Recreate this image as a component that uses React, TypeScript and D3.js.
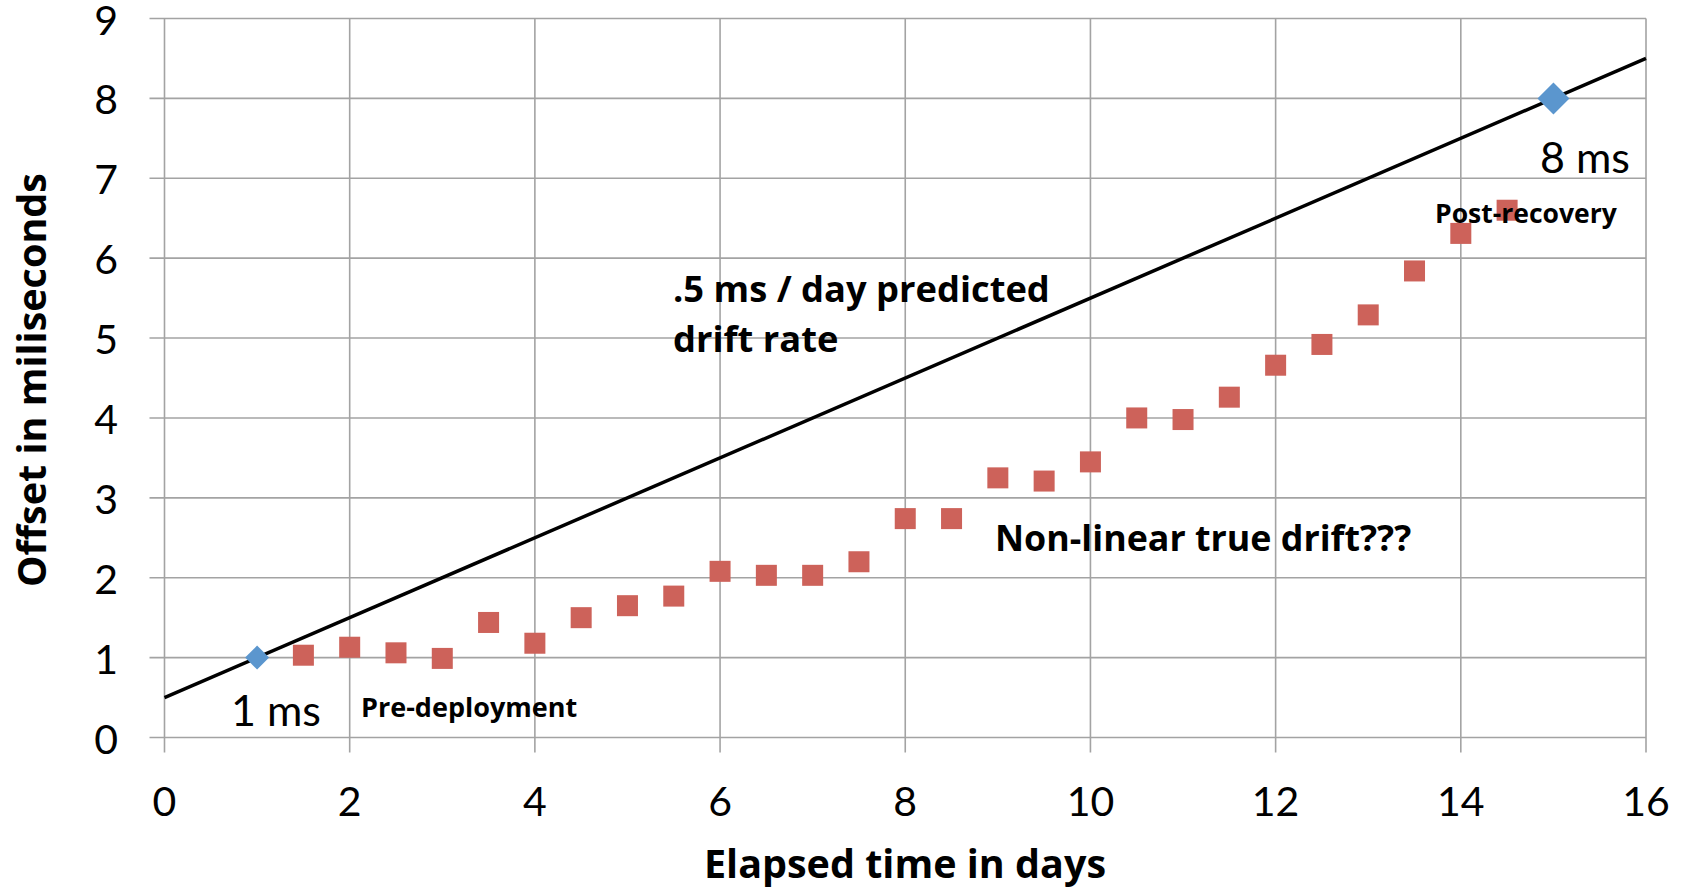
import React from "react";
import * as d3 from "d3";

const xTicks = [0, 2, 4, 6, 8, 10, 12, 14, 16];
const yTicks = [0, 1, 2, 3, 4, 5, 6, 7, 8, 9];

const predictedLine = [
  { day: 0, offset: 0.5 },
  { day: 16, offset: 8.5 },
];

const endpointDays = [1, 15];
const endpointOffsets = [1, 8];

const trueDays = [1.5, 2, 2.5, 3, 3.5, 4, 4.5, 5, 5.5, 6, 6.5, 7, 7.5, 8, 8.5, 9, 9.5, 10, 10.5, 11, 11.5, 12, 12.5, 13, 13.5, 14, 14.5];
const trueOffsets = [1.03, 1.13, 1.06, 0.99, 1.44, 1.18, 1.5, 1.65, 1.77, 2.08, 2.03, 2.03, 2.2, 2.74, 2.74, 3.25, 3.21, 3.45, 4.0, 3.98, 4.26, 4.66, 4.92, 5.29, 5.84, 6.31, 6.6];

const W = 1686;
const H = 893;
const FONT = "Lato, 'Open Sans', sans-serif";
const BOLD = "'Open Sans', Lato, sans-serif";

export default function App() {
  const x = d3.scaleLinear().domain([0, 16]).range([164.5, 1646]);
  const y = d3.scaleLinear().domain([0, 9]).range([737.5, 18.5]);
  const line = d3
    .line<{ day: number; offset: number }>()
    .x((d) => x(d.day))
    .y((d) => y(d.offset));
  const grid = "#A3A3A3";
  const sq = 21;
  const dm = 16;

  return (
    <svg
      width={W}
      height={H}
      style={{ position: "absolute", left: 0, top: 0, background: "#fff" }}
      fontFamily={FONT}
    >
      {yTicks.map((t) => (
        <line key={"h" + t} x1={x(0) - 15} x2={x(16)} y1={y(t)} y2={y(t)} stroke={grid} strokeWidth={1.6} />
      ))}
      {xTicks.map((t) => (
        <line key={"v" + t} x1={x(t)} x2={x(t)} y1={y(9)} y2={y(0) + 15} stroke={grid} strokeWidth={1.6} />
      ))}
      {yTicks.map((t) => (
        <text key={"yl" + t} x={118} y={y(t) + 16} textAnchor="end" fontSize={41} fill="#000">
          {t}
        </text>
      ))}
      {xTicks.map((t) => (
        <text key={"xl" + t} x={x(t)} y={816} textAnchor="middle" fontSize={41} fill="#000">
          {t}
        </text>
      ))}
      <text x={905} y={878} textAnchor="middle" fontSize={39.5} fontWeight="bold" fontFamily={BOLD} fill="#000">
        Elapsed time in days
      </text>
      <text
        transform={`translate(46, 380) rotate(-90)`}
        textAnchor="middle"
        fontSize={39.5}
        fontWeight="bold"
        fontFamily={BOLD}
        fill="#000"
      >
        Offset in miliseconds
      </text>

      <path d={line(predictedLine) || ""} stroke="#000" strokeWidth={3.5} fill="none" />

      {trueDays.map((d, i) => (
        <rect
          key={"s" + i}
          x={x(d) - sq / 2}
          y={y(trueOffsets[i]) - sq / 2}
          width={sq}
          height={sq}
          fill="#CD625A"
        />
      ))}

      {endpointDays.map((d, i) => {
        const cx = x(d);
        const cy = y(endpointOffsets[i]);
        const s = i === 0 ? 12 : dm;
        return (
          <path
            key={"d" + i}
            d={`M${cx},${cy - s} L${cx + s},${cy} L${cx},${cy + s} L${cx - s},${cy} Z`}
            fill="#5B96CE"
          />
        );
      })}

      <text x={231} y={726} fontSize={43} fill="#000">1 ms</text>
      <text x={361} y={717} fontSize={27} fontWeight="bold" fontFamily={BOLD} fill="#000">Pre-deployment</text>
      <text x={1540} y={173} fontSize={43} fill="#000">8 ms</text>
      <text x={1435} y={223} fontSize={26.5} fontWeight="bold" fontFamily={BOLD} fill="#000">Post-recovery</text>
      <text x={673} y={302} fontSize={36.3} fontWeight="bold" fontFamily={BOLD} fill="#000">.5 ms / day predicted</text>
      <text x={673} y={352} fontSize={36.3} fontWeight="bold" fontFamily={BOLD} fill="#000">drift rate</text>
      <text x={995} y={551} fontSize={35.8} fontWeight="bold" fontFamily={BOLD} fill="#000">Non-linear true drift???</text>
    </svg>
  );
}
